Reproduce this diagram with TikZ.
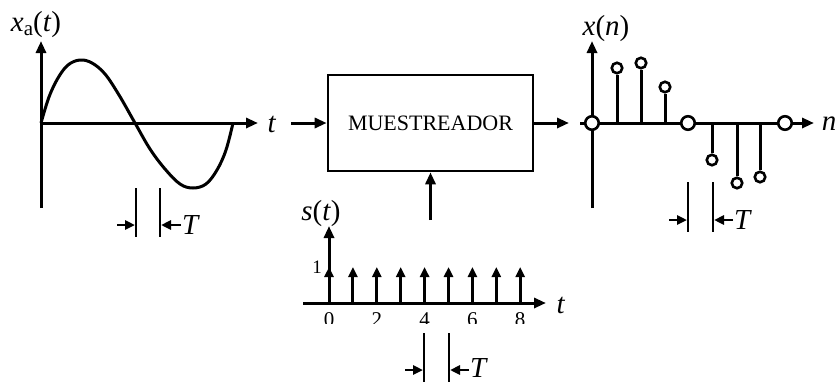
\documentclass[tikz,border=0pt]{standalone}
\usepackage{fontspec}
\setmainfont{Liberation Serif}
\usetikzlibrary{arrows.meta}
\begin{document}
\begin{tikzpicture}[x=1pt,y=-1pt, line width=3pt,
  ar/.style={-{Triangle[length=12pt,width=10pt]}},
  sar/.style={-{Triangle[length=10pt,width=9pt]}, line width=2.8pt},
  lbl/.style={font=\fontsize{29}{32}\selectfont, inner sep=0pt},
  num/.style={font=\fontsize{21}{22}\selectfont, inner sep=0pt},
  tick/.style={line width=2.2pt},
  bigdot/.style={circle, draw, fill=white, line width=2.6pt, inner sep=0pt, minimum size=13.5pt},
  smalldot/.style={circle, draw, fill=white, line width=2.6pt, inner sep=0pt, minimum size=10.5pt},
  box/.style={draw, line width=2.6pt, minimum width=205pt, minimum height=96pt, inner sep=0pt,
    font=\fontsize{22}{24}\selectfont}]
\useasboundingbox (0,0) rectangle (837,383);

% ---------- left: analog signal ----------
\coordinate (LO) at (41,123);
\coordinate (LyTop) at (41,41);
\coordinate (LyBot) at (41,208);
\coordinate (LxEnd) at (258,123);
\draw[ar] (LyBot) -- (LyTop);
\draw[ar] (LO) -- (LxEnd);
\draw[line width=3pt] plot[smooth, tension=0.6] coordinates {
  (41,123) (49,97) (58,78) (68,65) (80,60) (92,63) (105,74) (119,95)
  (135,123) (150,149) (165,169) (180,184) (193,188) (206,184) (217,170) (226,150) (233,123)};
\node[lbl] (xa) at (36,25) {\textit{x}\raisebox{-4pt}{\fontsize{21}{22}\selectfont a}(\textit{t})};
\node[lbl] (tl) at (272,124) {\textit{t}};

% left T marker
\coordinate (LT1a) at (136,188); \coordinate (LT1b) at (136,237);
\coordinate (LT2a) at (160,188); \coordinate (LT2b) at (160,237);
\draw[tick] (LT1a) -- (LT1b);
\draw[tick] (LT2a) -- (LT2b);
\coordinate (LA1s) at (117,225); \coordinate (LA1e) at (135,225);
\coordinate (LA2s) at (181,225); \coordinate (LA2e) at (161,225);
\draw[sar] (LA1s) -- (LA1e);
\draw[sar] (LA2s) -- (LA2e);
\node[lbl] (LT) at (191,225) {\textit{T}};

% ---------- sampler ----------
\node[box] (box) at (430.5,123) {MUESTREADOR};
\coordinate (inS) at (291,123);
\draw[ar] (inS) -- (box.west);
\coordinate (ctrl) at (430.5,220);
\draw[ar] (ctrl) -- (box.south);
\coordinate (outE) at (569,123);
\draw[ar] (box.east) -- (outE);

% ---------- right: discrete signal ----------
\coordinate (RO) at (592,123);
\coordinate (RyTop) at (592,41);
\coordinate (RyBot) at (592,208);
\coordinate (RxS) at (580,123);
\coordinate (RxE) at (814,123);
\draw[ar] (RyBot) -- (RyTop);
\draw[ar] (RxS) -- (RxE);
\foreach \i/\xx/\yy in {1/617/68, 2/641/63, 3/665/87, 4/712/160, 5/737/183, 6/760/177}{
  \coordinate (b\i) at (\xx,123);
  \node[smalldot] (s\i) at (\xx,\yy) {};
  \draw[line width=3pt] (b\i) -- (s\i);
}
\node[bigdot] (c0) at (592,123) {};
\node[bigdot] (c1) at (688,123) {};
\node[bigdot] (c2) at (785,123) {};
\node[lbl] (xn) at (606,29) {\textit{x}(\textit{n})};
\node[lbl] (nl) at (829,124) {\textit{n}};

% right T marker
\coordinate (RT1a) at (688,182); \coordinate (RT1b) at (688,232);
\coordinate (RT2a) at (713,182); \coordinate (RT2b) at (713,232);
\draw[tick] (RT1a) -- (RT1b);
\draw[tick] (RT2a) -- (RT2b);
\coordinate (RA1s) at (669,220); \coordinate (RA1e) at (687,220);
\coordinate (RA2s) at (733,220); \coordinate (RA2e) at (714,220);
\draw[sar] (RA1s) -- (RA1e);
\draw[sar] (RA2s) -- (RA2e);
\node[lbl] (RT) at (743,220) {\textit{T}};

% ---------- bottom: impulse train ----------
\coordinate (SO) at (329,303);
\coordinate (SyTop) at (329,226);
\coordinate (SxS) at (303,303);
\coordinate (SxE) at (546,303);
\draw[ar] (SO) -- (SyTop);
\draw[ar] (SxS) -- (SxE);
\foreach \k in {0,...,8}{
  \coordinate (p\k) at ({329+23.9*\k},303);
  \coordinate (q\k) at ({329+23.9*\k},267);
  \draw[sar, line width=3pt] (p\k) -- (q\k);
}
\node[lbl] (st) at (321,214) {\textit{s}(\textit{t})};
\node[lbl] (stl) at (561,305) {\textit{t}};
\node[num, font=\fontsize{19}{20}\selectfont] (one) at (317,267) {1};
\begin{scope}
  \clip (300,306) rectangle (546,323.5);
  \foreach \k/\v in {0/0,2/2,4/4,6/6,8/8}{
    \node[num, anchor=north] (n\k) at ({329+23.9*\k},311.5) {\v};
  }
\end{scope}

% bottom T marker
\coordinate (BT1a) at (424,333); \coordinate (BT1b) at (424,382);
\coordinate (BT2a) at (449,333); \coordinate (BT2b) at (449,382);
\draw[tick] (BT1a) -- (BT1b);
\draw[tick] (BT2a) -- (BT2b);
\coordinate (BA1s) at (405,370); \coordinate (BA1e) at (423,370);
\coordinate (BA2s) at (469,370); \coordinate (BA2e) at (450,370);
\draw[sar] (BA1s) -- (BA1e);
\draw[sar] (BA2s) -- (BA2e);
\node[lbl] (BT) at (479,368) {\textit{T}};
\end{tikzpicture}
\end{document}
